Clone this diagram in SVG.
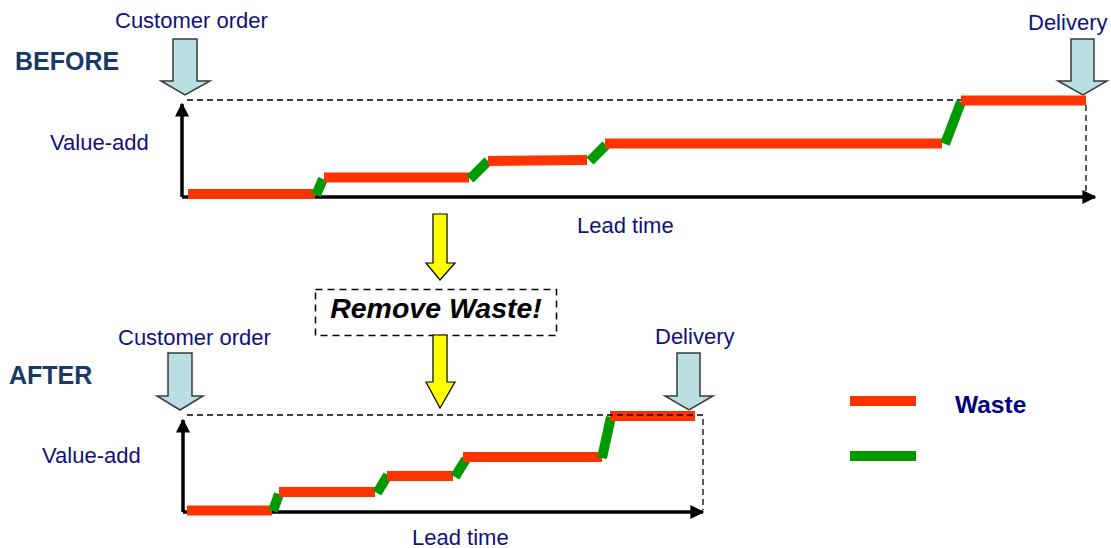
<svg xmlns="http://www.w3.org/2000/svg" width="1111" height="548" viewBox="0 0 1111 548">
<style>
.lbl{font-family:"Liberation Sans",Arial,sans-serif;font-size:22px;fill:#10107E}
.hdr{font-family:"Liberation Sans",Arial,sans-serif;font-size:25px;font-weight:bold;fill:#173B66}
.waste{stroke:#FF3300;stroke-width:10;fill:none}
.va{stroke:#009900;stroke-width:10;fill:none}
.axis{stroke:#000;stroke-width:3.5;fill:none}
.dash{stroke:#000;stroke-width:1.3;stroke-dasharray:6 4;fill:none}
.blk{fill:#B9DFE3;stroke:#3A3A3A;stroke-width:1.5}
.yel{fill:#FFFF00;stroke:#000;stroke-width:1.2}
</style>
<defs>
<marker id="ah" viewBox="0 0 10 10" refX="9" refY="5" markerWidth="4" markerHeight="4" orient="auto" markerUnits="strokeWidth">
<path d="M0,0 L10,5 L0,10 z" fill="#000"/>
</marker>
</defs>

<g id="before">
<text class="hdr" x="15" y="70">BEFORE</text>
<text class="lbl" x="115" y="28">Customer order</text>
<text class="lbl" x="50" y="150">Value-add</text>
<text class="lbl" x="577" y="233">Lead time</text>
<text class="lbl" x="1028" y="30">Delivery</text>
<path class="blk" d="M173,39 H197 V81 H210 L185,95 L161,81 H173 Z"/>
<path class="blk" d="M1071,39 H1094 V81 H1107 L1083,95 L1058,81 H1071 Z"/>
</g>

<g id="before-chart">
<path class="dash" d="M187,100 H961"/>
<path class="dash" d="M1086,105 V195"/>
<path class="axis" d="M182,197 V104" marker-end="url(#ah)"/>
<path class="axis" d="M182,197 H1095" marker-end="url(#ah)"/>
<line class="waste" x1="188" y1="194" x2="315" y2="194"/>
<line class="va" x1="316" y1="195" x2="323" y2="179"/>
<line class="waste" x1="324" y1="177.5" x2="469" y2="177.5"/>
<line class="va" x1="470" y1="179" x2="488" y2="161"/>
<line class="waste" x1="488" y1="161" x2="587" y2="160"/>
<line class="va" x1="590" y1="161" x2="606" y2="145"/>
<line class="waste" x1="605" y1="143.5" x2="942" y2="143.5"/>
<line class="va" x1="945" y1="144" x2="961" y2="102"/>
<line class="waste" x1="961" y1="100.5" x2="1086" y2="100.5"/>
</g>

<g id="remove-waste">
<path class="yel" d="M433,214 H447 V263 H455 L440,280 L426,263 H433 Z"/>
<rect x="315.5" y="289.5" width="241" height="46" fill="none" stroke="#000" stroke-width="1.5" stroke-dasharray="7 5"/>
<text x="436" y="318" text-anchor="middle" font-family="Liberation Sans,Arial,sans-serif" font-size="28.5" font-weight="bold" font-style="italic" fill="#000">Remove Waste!</text>
<path class="yel" d="M433,335 H447 V382 H455 L440,408 L426,382 H433 Z"/>
</g>

<g id="after">
<text class="hdr" x="9" y="384">AFTER</text>
<text class="lbl" x="118" y="345">Customer order</text>
<text class="lbl" x="42" y="463">Value-add</text>
<text class="lbl" x="412" y="545">Lead time</text>
<text class="lbl" x="655" y="344">Delivery</text>
<path class="blk" d="M168,353 H192 V396 H203 L180,410 L157,396 H168 Z"/>
<path class="blk" d="M677,353 H700 V396 H713 L689,410 L665,396 H677 Z"/>
</g>

<g id="after-chart">
<path class="axis" d="M183,512 V420" marker-end="url(#ah)"/>
<path class="axis" d="M183,512 H703" marker-end="url(#ah)"/>
<line class="waste" x1="187" y1="510.5" x2="272" y2="510.5"/>
<line class="va" x1="273" y1="511" x2="279" y2="494"/>
<line class="waste" x1="279" y1="492" x2="375" y2="492"/>
<line class="va" x1="377" y1="493" x2="388" y2="475"/>
<line class="waste" x1="387" y1="476" x2="453" y2="476"/>
<line class="va" x1="455" y1="477" x2="466" y2="459"/>
<line class="waste" x1="463" y1="457" x2="602" y2="457"/>
<line class="va" x1="602" y1="458" x2="611" y2="417"/>
<line class="waste" x1="610" y1="416" x2="695" y2="416"/>
<path class="dash" d="M187,415 H703 V510"/>
</g>

<g id="legend">
<line class="waste" x1="850" y1="401" x2="916" y2="401"/>
<line class="va" x1="850" y1="456" x2="916" y2="456"/>
<text x="955" y="413" font-family="Liberation Sans,Arial,sans-serif" font-size="24.5" font-weight="bold" fill="#000080">Waste</text>
</g>
</svg>
